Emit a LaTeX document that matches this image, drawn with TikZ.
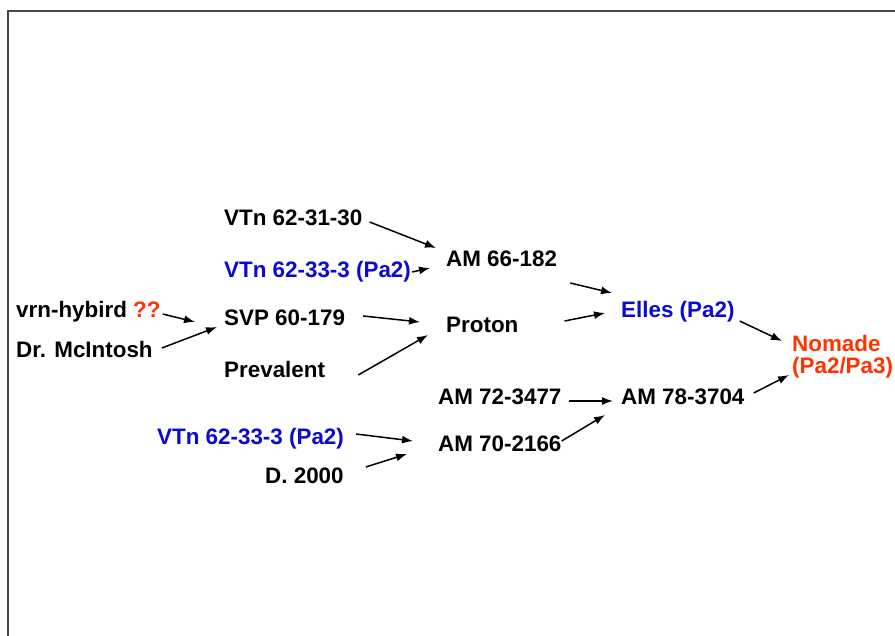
\documentclass[tikz,border=0pt]{standalone}
\usepackage{fontspec}
\setmainfont{Liberation Sans}
\usetikzlibrary{arrows.meta}
\definecolor{tblue}{RGB}{10,10,210}
\definecolor{tred}{RGB}{255,51,0}
\definecolor{frame}{RGB}{70,70,70}
\tikzset{
  lbl/.style={anchor=base west,inner sep=0pt,font=\fontsize{22.4}{26}\selectfont\bfseries},
  arr/.style={line width=1.5pt,-{Latex[length=11pt,width=8pt]}}
}
\begin{document}
\begin{tikzpicture}[x=1pt,y=-1pt]
\useasboundingbox (0,0) rectangle (895,636);
\fill[white] (0,0) rectangle (895,636);
\draw[frame,line width=2pt] (895,11) -- (8,11) -- (8,636);

\node[lbl] (v1) at (224,226) {VTn 62-31-30};
\node[lbl,text=tblue] (v2) at (224,278) {VTn 62-33-3 (Pa2)};
\node[lbl] (am66) at (446,267) {AM 66-182};
\node[lbl] (vrn) at (16,318) {vrn-hybird \textcolor{tred}{??}};
\node[lbl] (svp) at (224,326) {SVP 60-179};
\node[lbl] (proton) at (446,333) {Proton};
\node[lbl,text=tblue] (elles) at (621,318) {Elles (Pa2)};
\node[lbl] (mci) at (16,358) {Dr. McIntosh};
\node[lbl] (prev) at (224,378) {Prevalent};
\node[lbl,text=tred] (nom1) at (792,352) {Nomade};
\node[lbl,text=tred] (nom2) at (792,374) {(Pa2/Pa3)};
\node[lbl] (am72) at (438,405) {AM 72-3477};
\node[lbl] (am78) at (621,405) {AM 78-3704};
\node[lbl,text=tblue] (v3) at (157,445) {VTn 62-33-3 (Pa2)};
\node[lbl] (am70) at (438,452) {AM 70-2166};
\node[lbl] (d2000) at (265,483) {D. 2000};

\draw[arr] ([shift={(7,-4)}]v1.base east) -- ([shift={(-10,-19)}]am66.base west);
\draw[arr] ([shift={(1,-6)}]v2.base east) -- ([shift={(-16,1)}]am66.base west);
\draw[arr] ([shift={(13,16)}]am66.base east) -- ([shift={(-9,-25)}]elles.base west);
\draw[arr] ([shift={(46,-12)}]proton.base east) -- ([shift={(-16,-5)}]elles.base west);
\draw[arr] ([shift={(2,-4)}]vrn.base east) -- ([shift={(-29,-4)}]svp.base west);
\draw[arr] ([shift={(9,-10)}]mci.base east) -- ([shift={(-7,1)}]svp.base west);
\draw[arr] ([shift={(18,-10)}]svp.base east) -- ([shift={(-26,-11)}]proton.base west);
\draw[arr] ([shift={(33,-3)}]prev.base east) -- ([shift={(-18,2)}]proton.base west);
\draw[arr] ([shift={(5,3)}]elles.base east) -- ([shift={(-10,-11)}]nom1.base west);
\draw[arr] ([shift={(9,-12)}]am78.base east) -- ([shift={(-3,1)}]nom2.base west);
\draw[arr] ([shift={(7,-4)}]am72.base east) -- ([shift={(-8,-4)}]am78.base west);
\draw[arr] ([shift={(0,-11)}]am70.base east) -- ([shift={(-16,10)}]am78.base west);
\draw[arr] ([shift={(12,-11)}]v3.base east) -- ([shift={(-25,-11)}]am70.base west);
\draw[arr] ([shift={(22,-16)}]d2000.base east) -- ([shift={(-31,2)}]am70.base west);
\end{tikzpicture}
\end{document}
